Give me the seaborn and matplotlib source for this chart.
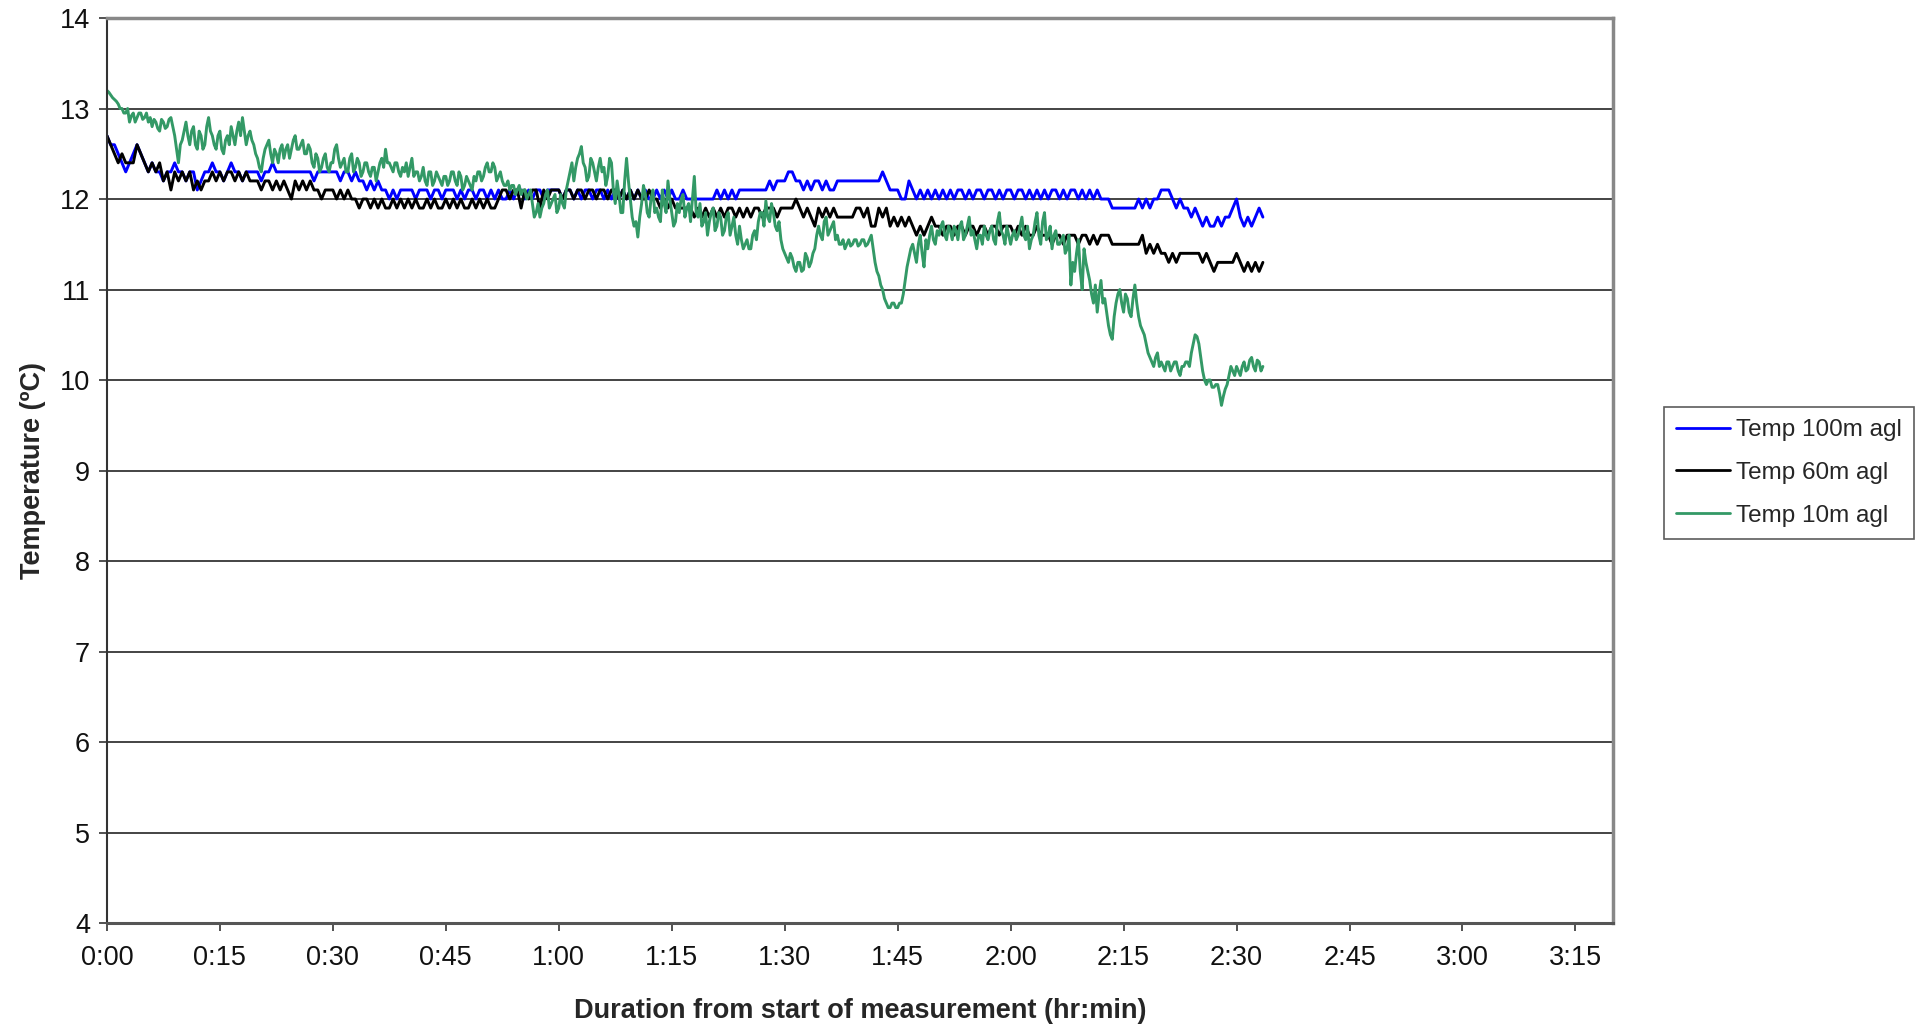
import matplotlib
matplotlib.use("Agg")
import matplotlib.pyplot as plt
from matplotlib.ticker import FuncFormatter, MultipleLocator
import seaborn as sns
import numpy as np
import pandas as pd

SAMPLE_STEP_MIN = 0.5

series_labels = ["Temp 100m agl", "Temp 60m agl", "Temp 10m agl"]
series_colors = ["#0000FF", "#000000", "#339966"]

temp_100m = [
    12.7, 12.6, 12.6, 12.5, 12.4, 12.3, 12.4, 12.5, 12.6, 12.5, 12.4, 12.3, 12.4, 12.3, 12.3, 12.2, 12.3, 12.3, 12.4, 12.3,
    12.3, 12.2, 12.3, 12.3, 12.1, 12.2, 12.3, 12.3, 12.4, 12.3, 12.3, 12.2, 12.3, 12.4, 12.3, 12.3, 12.2, 12.3, 12.3, 12.3,
    12.3, 12.2, 12.3, 12.3, 12.4, 12.3, 12.3, 12.3, 12.3, 12.3, 12.3, 12.3, 12.3, 12.3, 12.3, 12.2, 12.3, 12.3, 12.3, 12.3,
    12.3, 12.3, 12.2, 12.3, 12.3, 12.2, 12.3, 12.2, 12.2, 12.1, 12.2, 12.1, 12.2, 12.1, 12.1, 12.0, 12.1, 12.0, 12.1, 12.1,
    12.1, 12.1, 12.0, 12.1, 12.1, 12.1, 12.0, 12.1, 12.1, 12.0, 12.1, 12.1, 12.1, 12.0, 12.1, 12.0, 12.1, 12.1, 12.0, 12.1,
    12.1, 12.0, 12.1, 12.0, 12.1, 12.0, 12.0, 12.1, 12.0, 12.1, 12.1, 12.0, 12.1, 12.0, 12.1, 12.1, 12.0, 12.1, 12.1, 12.1,
    12.1, 12.0, 12.1, 12.1, 12.0, 12.1, 12.0, 12.1, 12.1, 12.0, 12.1, 12.1, 12.0, 12.1, 12.0, 12.1, 12.0, 12.1, 12.0, 12.1,
    12.0, 12.1, 12.0, 12.1, 12.0, 12.0, 12.1, 12.0, 12.1, 12.0, 12.1, 12.0, 12.0, 12.1, 12.0, 12.0, 12.0, 12.0, 12.0, 12.0,
    12.0, 12.0, 12.1, 12.0, 12.1, 12.0, 12.1, 12.0, 12.1, 12.1, 12.1, 12.1, 12.1, 12.1, 12.1, 12.1, 12.2, 12.1, 12.2, 12.2,
    12.2, 12.3, 12.3, 12.2, 12.2, 12.1, 12.2, 12.1, 12.2, 12.2, 12.1, 12.2, 12.1, 12.1, 12.2, 12.2, 12.2, 12.2, 12.2, 12.2,
    12.2, 12.2, 12.2, 12.2, 12.2, 12.2, 12.3, 12.2, 12.1, 12.1, 12.1, 12.0, 12.0, 12.2, 12.1, 12.0, 12.1, 12.0, 12.1, 12.0,
    12.1, 12.0, 12.1, 12.0, 12.1, 12.0, 12.1, 12.1, 12.0, 12.1, 12.0, 12.1, 12.1, 12.0, 12.1, 12.1, 12.0, 12.1, 12.0, 12.1,
    12.1, 12.0, 12.1, 12.1, 12.0, 12.1, 12.0, 12.1, 12.0, 12.1, 12.0, 12.1, 12.1, 12.0, 12.1, 12.0, 12.1, 12.1, 12.0, 12.1,
    12.0, 12.1, 12.0, 12.1, 12.0, 12.0, 12.0, 11.9, 11.9, 11.9, 11.9, 11.9, 11.9, 11.9, 12.0, 11.9, 12.0, 11.9, 12.0, 12.0,
    12.1, 12.1, 12.1, 12.0, 11.9, 12.0, 11.9, 11.9, 11.8, 11.9, 11.8, 11.7, 11.8, 11.7, 11.7, 11.8, 11.7, 11.8, 11.8, 11.9,
    12.0, 11.8, 11.7, 11.8, 11.7, 11.8, 11.9, 11.8,
]

temp_60m = [
    12.7, 12.6, 12.5, 12.4, 12.5, 12.4, 12.4, 12.4, 12.6, 12.5, 12.4, 12.3, 12.4, 12.3, 12.4, 12.2, 12.3, 12.1, 12.3, 12.2,
    12.3, 12.2, 12.3, 12.1, 12.2, 12.1, 12.2, 12.2, 12.3, 12.2, 12.3, 12.2, 12.3, 12.3, 12.2, 12.3, 12.2, 12.3, 12.2, 12.2,
    12.2, 12.1, 12.2, 12.2, 12.1, 12.2, 12.1, 12.2, 12.1, 12.0, 12.2, 12.1, 12.2, 12.1, 12.2, 12.1, 12.1, 12.0, 12.1, 12.1,
    12.1, 12.0, 12.1, 12.0, 12.1, 12.0, 12.0, 11.9, 12.0, 12.0, 11.9, 12.0, 11.9, 12.0, 11.9, 11.9, 12.0, 11.9, 12.0, 11.9,
    12.0, 11.9, 12.0, 11.9, 11.9, 12.0, 11.9, 12.0, 11.9, 11.9, 12.0, 11.9, 12.0, 11.9, 12.0, 11.9, 11.9, 12.0, 11.9, 12.0,
    11.9, 12.0, 11.9, 11.9, 12.0, 12.1, 12.1, 12.0, 12.1, 12.1, 11.9, 12.1, 12.0, 12.1, 12.1, 11.9, 12.1, 12.0, 12.1, 12.1,
    12.1, 12.0, 12.1, 12.1, 12.0, 12.1, 12.1, 12.0, 12.1, 12.1, 12.0, 12.1, 12.1, 12.0, 12.1, 12.1, 12.0, 12.1, 12.0, 12.1,
    12.0, 12.1, 12.0, 12.0, 12.1, 12.0, 12.0, 11.9, 12.0, 11.9, 12.0, 11.9, 11.9, 11.9, 11.9, 11.9, 11.8, 11.9, 11.8, 11.9,
    11.8, 11.9, 11.8, 11.9, 11.8, 11.9, 11.9, 11.8, 11.9, 11.8, 11.9, 11.8, 11.9, 11.9, 11.8, 11.9, 11.9, 11.9, 11.8, 11.9,
    11.9, 11.9, 11.9, 12.0, 11.9, 11.8, 11.9, 11.8, 11.7, 11.9, 11.8, 11.9, 11.8, 11.9, 11.8, 11.8, 11.8, 11.8, 11.8, 11.9,
    11.9, 11.8, 11.9, 11.7, 11.7, 11.9, 11.8, 11.9, 11.7, 11.8, 11.7, 11.8, 11.7, 11.8, 11.7, 11.6, 11.7, 11.6, 11.7, 11.8,
    11.7, 11.7, 11.6, 11.7, 11.7, 11.6, 11.7, 11.7, 11.6, 11.7, 11.7, 11.6, 11.7, 11.7, 11.6, 11.7, 11.7, 11.6, 11.7, 11.7,
    11.7, 11.6, 11.7, 11.6, 11.7, 11.6, 11.6, 11.7, 11.6, 11.6, 11.6, 11.5, 11.6, 11.6, 11.5, 11.6, 11.6, 11.6, 11.5, 11.6,
    11.6, 11.5, 11.6, 11.5, 11.6, 11.6, 11.6, 11.5, 11.5, 11.5, 11.5, 11.5, 11.5, 11.5, 11.5, 11.6, 11.4, 11.5, 11.4, 11.5,
    11.4, 11.4, 11.3, 11.4, 11.3, 11.4, 11.4, 11.4, 11.4, 11.4, 11.4, 11.3, 11.4, 11.3, 11.2, 11.3, 11.3, 11.3, 11.3, 11.3,
    11.4, 11.3, 11.2, 11.3, 11.2, 11.3, 11.2, 11.3,
]

temp_10m = [
    13.2, 13.15, 13.1, 13.05, 13.0, 12.95, 12.85, 12.95, 12.9, 12.95, 12.9, 12.85, 12.8, 12.85, 12.75, 12.85, 12.8, 12.9, 12.7, 12.4,
    12.65, 12.85, 12.6, 12.8, 12.55, 12.7, 12.6, 12.9, 12.7, 12.55, 12.75, 12.5, 12.7, 12.8, 12.6, 12.85, 12.9, 12.6, 12.75, 12.6,
    12.45, 12.3, 12.55, 12.65, 12.4, 12.5, 12.55, 12.45, 12.6, 12.55, 12.7, 12.55, 12.65, 12.5, 12.55, 12.35, 12.45, 12.35, 12.5, 12.3,
    12.4, 12.6, 12.35, 12.45, 12.3, 12.5, 12.35, 12.4, 12.3, 12.4, 12.25, 12.35, 12.3, 12.45, 12.55, 12.4, 12.3, 12.4, 12.25, 12.3,
    12.25, 12.45, 12.3, 12.2, 12.35, 12.15, 12.3, 12.2, 12.25, 12.15, 12.25, 12.2, 12.3, 12.15, 12.25, 12.15, 12.2, 12.1, 12.2, 12.3,
    12.25, 12.4, 12.3, 12.35, 12.25, 12.2, 12.15, 12.1, 12.15, 12.1, 12.05, 12.1, 12.05, 11.95, 11.85, 11.8, 11.95, 12.1, 11.95, 12.05,
    11.9, 11.95, 12.1, 12.3, 12.2, 12.45, 12.58, 12.35, 12.25, 12.4, 12.2, 12.45, 12.35, 12.25, 12.4, 11.95, 12.05, 11.85, 12.45, 12.0,
    11.7, 11.58, 11.95, 12.05, 11.8, 12.1, 11.9, 11.75, 11.95, 12.2, 11.85, 11.75, 11.85, 12.05, 11.9, 11.75, 12.25, 11.8, 11.7, 11.85,
    11.75, 11.9, 11.7, 11.8, 11.65, 11.85, 11.7, 11.6, 11.7, 11.45, 11.55, 11.45, 11.65, 11.75, 11.85, 11.98, 11.75, 11.85, 11.65, 11.55,
    11.4, 11.3, 11.35, 11.2, 11.3, 11.22, 11.35, 11.3, 11.45, 11.7, 11.55, 11.8, 11.65, 11.75, 11.6, 11.5, 11.45, 11.55, 11.5, 11.55,
    11.5, 11.55, 11.5, 11.6, 11.3, 11.15, 11.0, 10.85, 10.8, 10.85, 10.8, 10.85, 11.1, 11.35, 11.5, 11.3, 11.6, 11.25, 11.45, 11.7,
    11.5, 11.6, 11.75, 11.55, 11.65, 11.7, 11.55, 11.75, 11.6, 11.8, 11.65, 11.45, 11.6, 11.7, 11.55, 11.7, 11.5, 11.85, 11.6, 11.7,
    11.5, 11.65, 11.6, 11.8, 11.55, 11.45, 11.6, 11.85, 11.5, 11.85, 11.6, 11.45, 11.65, 11.5, 11.6, 11.45, 11.05, 11.2, 11.55, 11.0,
    11.3, 11.1, 10.85, 10.75, 11.1, 10.9, 10.6, 10.45, 10.85, 11.0, 10.75, 10.9, 10.7, 11.05, 10.7, 10.55, 10.4, 10.25, 10.15, 10.3,
    10.2, 10.1, 10.2, 10.15, 10.2, 10.05, 10.15, 10.2, 10.3, 10.5, 10.4, 10.1, 9.95, 10.0, 9.92, 9.95, 9.72, 9.9, 10.05, 10.1,
    10.15, 10.05, 10.2, 10.12, 10.25, 10.1, 10.2, 10.15,
]

# 10 m Sensor schwankt schneller: Zwischenwerte jeweils 0.25 min versetzt
temp_10m_mid = [
    13.18, 13.12, 13.08, 13.0, 12.95, 13.0, 12.92, 12.85, 12.95, 12.88, 12.95, 12.9, 12.88, 12.78, 12.88, 12.78, 12.88, 12.8, 12.55, 12.6,
    12.75, 12.7, 12.75, 12.6, 12.75, 12.55, 12.8, 12.75, 12.6, 12.7, 12.55, 12.65, 12.6, 12.7, 12.75, 12.7, 12.75, 12.7, 12.65, 12.5,
    12.35, 12.45, 12.6, 12.5, 12.55, 12.4, 12.6, 12.55, 12.45, 12.65, 12.55, 12.6, 12.5, 12.6, 12.4, 12.5, 12.3, 12.45, 12.35, 12.4,
    12.55, 12.45, 12.4, 12.3, 12.45, 12.3, 12.45, 12.25, 12.4, 12.3, 12.35, 12.2, 12.4, 12.35, 12.4, 12.35, 12.4, 12.3, 12.35, 12.4,
    12.35, 12.25, 12.3, 12.25, 12.2, 12.3, 12.15, 12.3, 12.2, 12.25, 12.15, 12.3, 12.2, 12.3, 12.1, 12.25, 12.15, 12.25, 12.3, 12.2,
    12.35, 12.3, 12.4, 12.2, 12.3, 12.15, 12.2, 12.15, 12.05, 12.15, 12.1, 12.0, 12.1, 11.8, 11.95, 11.9, 12.05, 11.9, 12.0, 11.85,
    12.05, 11.9, 12.2, 12.4, 12.35, 12.5, 12.4, 12.2, 12.45, 12.3, 12.35, 12.3, 12.15, 12.45, 12.1, 12.2, 11.85, 12.2, 12.2, 11.8,
    11.75, 11.8, 12.15, 11.85, 12.0, 11.85, 11.8, 12.1, 11.85, 12.0, 11.7, 11.95, 12.0, 11.8, 11.95, 12.0, 11.85, 11.95, 11.75, 11.6,
    11.85, 11.65, 11.85, 11.6, 11.8, 11.6, 11.8, 11.5, 11.55, 11.5, 11.45, 11.6, 11.55, 11.85, 11.7, 11.8, 11.95, 11.7, 11.75, 11.45,
    11.35, 11.4, 11.25, 11.3, 11.2, 11.4, 11.25, 11.4, 11.6, 11.6, 11.75, 11.6, 11.7, 11.55, 11.5, 11.55, 11.5, 11.48, 11.55, 11.48,
    11.55, 11.48, 11.55, 11.45, 11.2, 11.05, 10.9, 10.8, 10.85, 10.8, 10.85, 10.95, 11.25, 11.45, 11.4, 11.5, 11.4, 11.55, 11.6, 11.55,
    11.65, 11.7, 11.6, 11.7, 11.55, 11.65, 11.7, 11.55, 11.7, 11.6, 11.55, 11.6, 11.5, 11.6, 11.65, 11.55, 11.75, 11.65, 11.5, 11.6,
    11.6, 11.55, 11.7, 11.6, 11.7, 11.55, 11.75, 11.6, 11.75, 11.55, 11.7, 11.6, 11.5, 11.55, 11.4, 11.6, 11.3, 11.4, 11.2, 11.45,
    11.2, 10.95, 11.05, 10.95, 10.85, 10.75, 10.5, 10.7, 10.95, 10.85, 10.95, 10.75, 10.9, 10.85, 10.6, 10.5, 10.3, 10.2, 10.25, 10.15,
    10.15, 10.2, 10.1, 10.2, 10.1, 10.15, 10.2, 10.15, 10.4, 10.48, 10.25, 10.0, 10.0, 9.92, 9.95, 9.85, 9.82, 9.95, 10.15, 10.05,
    10.1, 10.15, 10.1, 10.22, 10.15, 10.22, 10.1,
]

# Daten in Long-Format bringen
frames = []
for label, values in zip(series_labels, [temp_100m, temp_60m, temp_10m]):
    minutes = np.arange(len(values)) * SAMPLE_STEP_MIN
    frames.append(pd.DataFrame({"minutes": minutes, "temp": values, "series": label}))
mid_minutes = np.arange(len(temp_10m_mid)) * SAMPLE_STEP_MIN + SAMPLE_STEP_MIN / 2
frames.append(pd.DataFrame({"minutes": mid_minutes, "temp": temp_10m_mid, "series": series_labels[2]}))
df = pd.concat(frames, ignore_index=True)

sns.set_style("white")
plt.rcParams["font.family"] = ["Liberation Sans", "DejaVu Sans"]

fig = plt.figure(figsize=(19.16, 10.24), dpi=100)
ax = fig.add_axes([0.0558, 0.0986, 0.7861, 0.8838])

sns.lineplot(
    data=df,
    x="minutes",
    y="temp",
    hue="series",
    hue_order=series_labels,
    palette=series_colors,
    estimator=None,
    sort=True,
    linewidth=2.1,
    ax=ax,
)

handles, labels = ax.get_legend_handles_labels()
ax.get_legend().remove()

# Achsen
ax.set_xlim(0, 200)
ax.set_ylim(4, 14)
ax.xaxis.set_major_locator(MultipleLocator(15))
ax.yaxis.set_major_locator(MultipleLocator(1))
ax.xaxis.set_major_formatter(FuncFormatter(lambda m, _: f"{int(m) // 60}:{int(m) % 60:02d}"))
ax.tick_params(axis="both", which="major", labelsize=19.5, direction="out",
               length=6, width=1.2, color="#333333", labelcolor="#111111")
ax.tick_params(axis="x", pad=10, bottom=True)
ax.tick_params(axis="y", pad=6, left=True)

ax.grid(axis="y", color="#111111", linewidth=1.1)
ax.grid(axis="x", visible=False)
ax.set_axisbelow(True)

for side in ["top", "right"]:
    ax.spines[side].set_color("#888888")
    ax.spines[side].set_linewidth(2.5)
ax.spines["bottom"].set_color("#555555")
ax.spines["bottom"].set_linewidth(2.2)
ax.spines["left"].set_color("#333333")
ax.spines["left"].set_linewidth(1.5)

ax.set_xlabel("Duration from start of measurement (hr:min)", fontsize=19.5,
              fontweight="bold", labelpad=19)
ax.set_ylabel("Temperature (\u00baC)", fontsize=19.5, fontweight="bold", labelpad=10)

leg = fig.legend(
    handles,
    labels,
    loc="upper left",
    bbox_to_anchor=(0.8685, 0.6025),
    borderaxespad=0.0,
    fontsize=17.5,
    frameon=True,
    fancybox=False,
    edgecolor="#333333",
    handlelength=2.2,
    handletextpad=0.25,
    labelspacing=0.85,
    borderpad=0.5,
)
leg.get_frame().set_linewidth(1.2)
for line in leg.get_lines():
    line.set_linewidth(2.0)

fig.savefig("out.png", dpi=100)
plt.close(fig)
